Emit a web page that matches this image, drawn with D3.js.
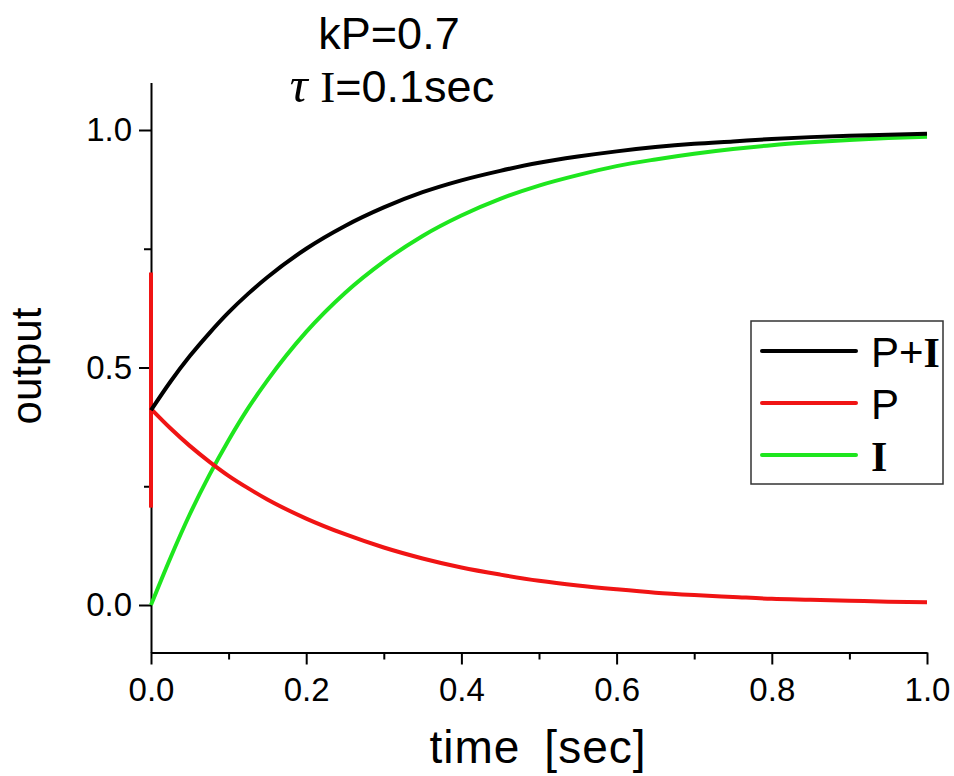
<!DOCTYPE html>
<html>
<head>
<meta charset="utf-8">
<script src="https://cdn.jsdelivr.net/npm/d3@7"></script>
<style>
  body { margin: 0; background: #fff; }
  text { font-family: "Liberation Sans", "Noto Sans CJK JP", sans-serif; fill: #000; }
</style>
</head>
<body>
<div class="chart"></div>
<script>
// values
const timeSec = [0, 0.025, 0.05, 0.075, 0.1, 0.125, 0.15, 0.2, 0.25, 0.3, 0.35, 0.4, 0.45,
                 0.5, 0.55, 0.6, 0.65, 0.7, 0.75, 0.8, 0.85, 0.9, 0.95, 1.0];
const outPI = [0.41, 0.470, 0.524, 0.572, 0.616, 0.655, 0.690, 0.750, 0.798, 0.837, 0.869, 0.894, 0.914,
               0.931, 0.944, 0.955, 0.964, 0.971, 0.976, 0.981, 0.985, 0.988, 0.990, 0.992];
const outP = [0.413, 0.372, 0.335, 0.302, 0.272, 0.246, 0.222, 0.182, 0.149, 0.121, 0.098, 0.079, 0.064,
              0.051, 0.041, 0.033, 0.026, 0.021, 0.017, 0.013, 0.011, 0.009, 0.007, 0.006];
const outI = [0.0, 0.099, 0.191, 0.273, 0.347, 0.414, 0.473, 0.575, 0.657, 0.723, 0.777, 0.820, 0.855,
              0.883, 0.905, 0.924, 0.938, 0.950, 0.960, 0.968, 0.974, 0.979, 0.983, 0.986];
const pStepRange = [0.70, 0.205];   // red jump at t = 0

const xMajor = [0, 0.2, 0.4, 0.6, 0.8, 1.0];
const xMinor = [0.1, 0.3, 0.5, 0.7, 0.9];
const yMajor = [0, 0.5, 1.0];
const yMinor = [0.25, 0.75];

const seriesNames = ["P+I", "P", "I"];
const seriesColors = ["#000000", "#f01414", "#1ee61e"];

let svg = d3.select(".chart")
  .append("svg")
  .attr("width", 954)
  .attr("height", 776);

let x = d3.scaleLinear().domain([0, 1]).range([151, 927]);
let y = d3.scaleLinear().domain([-0.1, 1.1]).range([652.5, 82.5]);

// axes
svg.append("g")
  .attr("transform", "translate(0,652.5)")
  .call(d3.axisBottom(x).tickValues(xMajor).tickSize(12).tickPadding(13)
    .tickSizeOuter(0).tickFormat(d3.format(".1f")));
svg.append("g")
  .attr("transform", "translate(0,652.5)")
  .call(d3.axisBottom(x).tickValues(xMinor).tickSize(7).tickSizeOuter(0).tickFormat(""))
  .select(".domain").remove();

svg.append("g")
  .attr("transform", "translate(151,0)")
  .call(d3.axisLeft(y).tickValues(yMajor).tickSize(12).tickPadding(7)
    .tickSizeOuter(0).tickFormat(d3.format(".1f")));
svg.append("g")
  .attr("transform", "translate(151,0)")
  .call(d3.axisLeft(y).tickValues(yMinor).tickSize(7).tickSizeOuter(0).tickFormat(""))
  .select(".domain").remove();

svg.selectAll(".domain, .tick line")
  .attr("stroke", "#000")
  .attr("stroke-width", 2);
svg.selectAll(".tick text")
  .style("font-family", "Liberation Sans")
  .style("font-size", "33px");

// axis titles
svg.append("text")
  .attr("x", 538)
  .attr("y", 763)
  .attr("text-anchor", "middle")
  .style("font-size", "46px")
  .style("letter-spacing", "1px")
  .text("time\u2002[sec]");

svg.append("text")
  .attr("transform", "translate(41,366) rotate(-90)")
  .attr("text-anchor", "middle")
  .style("font-size", "42px")
  .text("output");

// chart title
let title = svg.append("text")
  .attr("text-anchor", "middle")
  .style("font-size", "45px");
title.append("tspan").attr("x", 389).attr("y", 49).text("kP=0.7");
let t2 = title.append("tspan").attr("x", 392).attr("y", 102);
t2.append("tspan").style("font-family", "Liberation Serif").style("font-style", "italic")
  .style("font-size", "50px").text("τ ");
t2.append("tspan").style("font-family", "Liberation Serif").text("I");
t2.append("tspan").text("=0.1sec");

// curves
let line = d3.line()
  .x(d => x(d[0]))
  .y(d => y(d[1]))
  .curve(d3.curveMonotoneX);

let seriesData = [outPI, outP, outI];

svg.append("line")
  .attr("x1", x(0)).attr("x2", x(0))
  .attr("y1", y(pStepRange[0])).attr("y2", y(pStepRange[1]))
  .attr("stroke", seriesColors[1])
  .attr("stroke-width", 4);

// green first, then red, then black on top
[2, 1, 0].forEach(function(k) {
  svg.append("path")
    .datum(timeSec.map((t, i) => [t, seriesData[k][i]]))
    .attr("d", line)
    .attr("fill", "none")
    .attr("stroke", seriesColors[k])
    .attr("stroke-width", 4);
});

// legend
let legend = svg.append("g");
legend.append("rect")
  .attr("x", 751).attr("y", 321)
  .attr("width", 192).attr("height", 163)
  .attr("fill", "#fff")
  .attr("stroke", "#333")
  .attr("stroke-width", 1.5);

seriesNames.forEach(function(name, k) {
  let ly = 351 + k * 52;
  legend.append("line")
    .attr("x1", 762).attr("x2", 856)
    .attr("y1", ly).attr("y2", ly)
    .attr("stroke", seriesColors[k])
    .attr("stroke-width", 4)
    .attr("stroke-linecap", "round");
  let lt = legend.append("text")
    .attr("x", 871).attr("y", ly + 16)
    .style("font-size", "42px");
  name.split("").forEach(function(ch) {
    let sp = lt.append("tspan").text(ch);
    if (ch === "I") sp.style("font-family", "Liberation Serif").style("font-weight", "bold");
  });
});
</script>
</body>
</html>
